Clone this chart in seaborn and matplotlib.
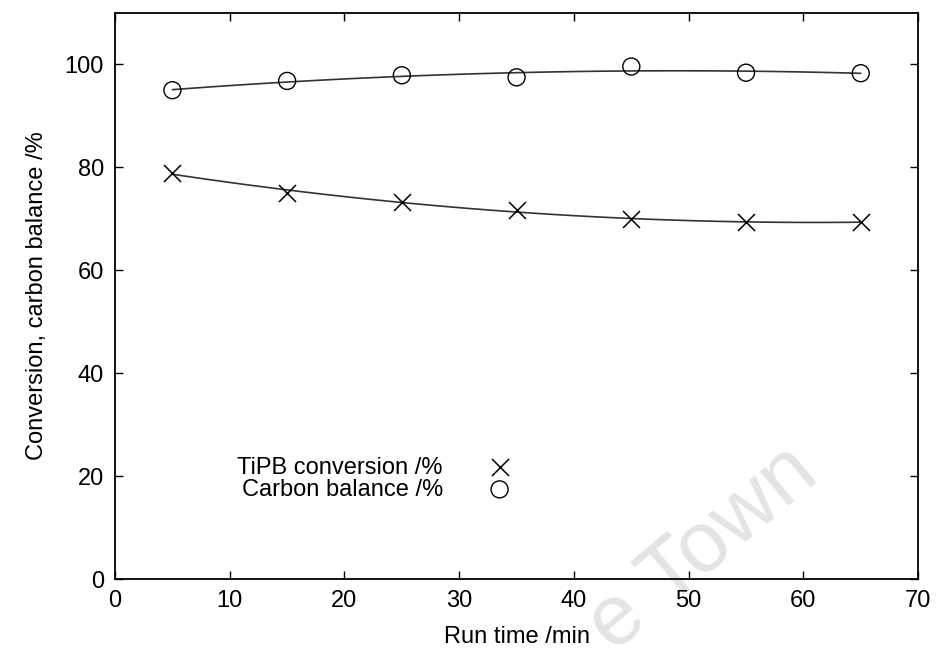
import numpy as np
import pandas as pd
import matplotlib
matplotlib.use("Agg")
import matplotlib.pyplot as plt
import seaborn as sns

# data
run_time = [5, 15, 25, 35, 45, 55, 65]
tipb_conversion = [79.0, 75.0, 73.2, 71.7, 70.0, 69.4, 69.3]
carbon_balance = [95.0, 96.8, 97.9, 97.5, 99.6, 98.4, 98.3]

x_ticks = [0, 10, 20, 30, 40, 50, 60, 70]
y_ticks = [0, 20, 40, 60, 80, 100]

df = pd.DataFrame({
    'run_time': run_time,
    'tipb': tipb_conversion,
    'carbon': carbon_balance,
})

sns.set_style('ticks')
plt.rcParams['font.family'] = ['Liberation Sans', 'DejaVu Sans']
plt.rcParams['font.size'] = 17
plt.rcParams['text.color'] = 'black'
plt.rcParams['axes.labelcolor'] = 'black'

fig = plt.figure(figsize=(9.36, 6.57), dpi=100)
ax = fig.add_axes([0.1229, 0.1187, 0.858, 0.8615])
ax.patch.set_alpha(0)

line_color = '#333333'

# smooth trend lines (2nd order fits through the points)
sns.regplot(data=df, x='run_time', y='tipb', order=2, ci=None, scatter=False,
            truncate=True, ax=ax, line_kws={'color': line_color, 'lw': 1.2})
sns.regplot(data=df, x='run_time', y='carbon', order=2, ci=None, scatter=False,
            truncate=True, ax=ax, line_kws={'color': line_color, 'lw': 1.2})

sns.scatterplot(data=df, x='run_time', y='tipb', marker='x', s=150,
                color='black', linewidth=1.1, ax=ax, label='TiPB conversion /%',
                zorder=3)
sns.scatterplot(data=df, x='run_time', y='carbon', marker='o', s=150,
                facecolor='none', edgecolor='black', linewidth=1.0, ax=ax,
                label='Carbon balance /%', zorder=3)

ax.set_xlim(0, 70)
ax.set_ylim(0, 110)
ax.set_xticks(x_ticks)
ax.set_yticks(y_ticks)
ax.tick_params(direction='in', length=6, width=1, top=True, right=True,
               labelsize=17, pad=8, colors='black')
for side in ['top', 'right', 'bottom', 'left']:
    ax.spines[side].set_visible(True)
    ax.spines[side].set_linewidth(1.3)
    ax.spines[side].set_color('black')

ax.set_xlabel('Run time /min', fontsize=17, labelpad=10)
ax.set_ylabel('Conversion, carbon balance /%', fontsize=17, labelpad=12)

leg = ax.legend(loc='upper right', bbox_to_anchor=(0.52, 0.233),
                markerfirst=False, frameon=False, fontsize=17,
                handletextpad=1.4, labelspacing=0.0, borderaxespad=0)
for t in leg.get_texts():
    t.set_color('black')

# faint scan watermark, sits behind the plot
fig.text(0.655, 0.005, 'e Town', fontsize=62, color='#e4e4e4', rotation=40,
         rotation_mode='anchor', ha='left', va='baseline', zorder=-1)

fig.savefig('out.png', dpi=100)
